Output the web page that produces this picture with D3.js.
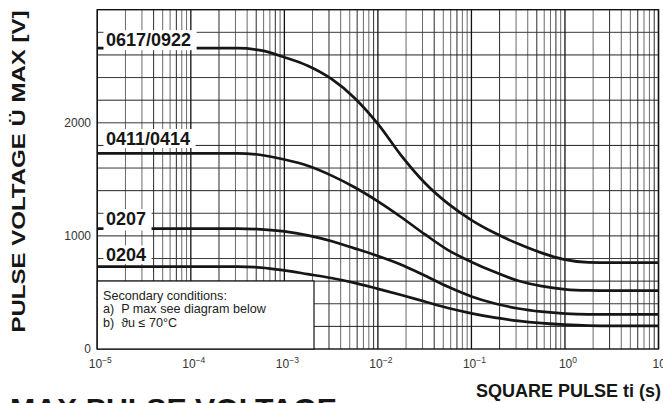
<!DOCTYPE html>
<html>
<head>
<meta charset="utf-8">
<script src="https://cdn.jsdelivr.net/npm/d3@7"></script>
<style>
  html, body { margin: 0; padding: 0; background: #fff; }
  svg { display: block; font-family: "Liberation Sans", Arial, Helvetica, sans-serif; }
  .note { white-space: pre; }
</style>
</head>
<body>
<svg id="chart" width="663" height="403"></svg>
<script>
// ---------------- DATA ----------------
const xTickExponents = [-5, -4, -3, -2, -1, 0, 1];
const yTickValues = [0, 1000, 2000];
const seriesNames = ["0617/0922", "0411/0414", "0207", "0204"];
// pulse time grid, as log10(ti / s)
const logTimes = [-5, -3.5, -3.25, -3, -2.75, -2.5, -2.25, -2, -1.75, -1.5, -1.25, -1, -0.75, -0.5, -0.25, 0, 0.25, 0.5, 1];
const v0617 = [2660, 2660, 2640, 2580, 2505, 2390, 2220, 1990, 1710, 1470, 1285, 1140, 1025, 930, 850, 790, 766, 763, 763];
const v0411 = [1730, 1730, 1715, 1675, 1620, 1535, 1430, 1305, 1165, 1015, 875, 770, 680, 603, 556, 528, 518, 516, 516];
const v0207 = [1065, 1065, 1058, 1040, 1005, 955, 890, 822, 745, 650, 550, 465, 402, 358, 330, 313, 307, 307, 307];
const v0204 = [728, 728, 720, 695, 662, 628, 585, 532, 478, 420, 362, 315, 277, 249, 229, 215, 207, 205, 205];
const seriesValues = [v0617, v0411, v0207, v0204];
const yAxisTitle = "PULSE VOLTAGE Ü MAX [V]";
const xAxisTitle = "SQUARE PULSE ti (s)";
const chartTitle = "MAX PULSE VOLTAGE";
const noteLines = ["Secondary conditions:", "a)  P max see diagram below", "b)  ϑu ≤ 70°C"];

// ---------------- LAYOUT ----------------
const svg = d3.select("#chart");
const L = 97.3, R = 658.5, T = 9.7, B = 349;
const x = d3.scaleLog().domain([1e-5, 10]).range([L, R]);
const y = d3.scaleLinear().domain([0, 3000]).range([B, T]);

// grid
const grid = svg.append("g");
const minorX = [];
for (let e = -5; e < 1; e++) for (let m = 2; m <= 9; m++) minorX.push(m * Math.pow(10, e));
grid.selectAll("line.minx").data(minorX).join("line")
  .attr("x1", d => x(d)).attr("x2", d => x(d)).attr("y1", T).attr("y2", B)
  .attr("stroke", (d, i) => (i % 3 === 2 ? "#2a2a2a" : "#6a6a6a")).attr("stroke-width", 1);
grid.selectAll("line.hy").data(d3.range(200, 3000, 200)).join("line")
  .attr("x1", L).attr("x2", R).attr("y1", d => y(d)).attr("y2", d => y(d))
  .attr("stroke", (d, i) => (i % 2 ? "#3a3a3a" : "#222")).attr("stroke-width", 1);
grid.selectAll("line.majx").data(xTickExponents.map(e => Math.pow(10, e))).join("line")
  .attr("x1", d => x(d)).attr("x2", d => x(d)).attr("y1", T).attr("y2", B)
  .attr("stroke", "#111").attr("stroke-width", 1.3);
svg.append("rect").attr("x", L).attr("y", T).attr("width", R - L).attr("height", B - T)
  .attr("fill", "none").attr("stroke", "#111").attr("stroke-width", 1.4);

// secondary conditions box
const noteBox = svg.append("g");
noteBox.append("rect").attr("x", L).attr("y", 281).attr("width", 314 - L).attr("height", B - 281)
  .attr("fill", "#fff").attr("stroke", "#111").attr("stroke-width", 1.2);
noteBox.selectAll("text").data(noteLines).join("text")
  .attr("class", "note")
  .attr("x", 103).attr("y", (d, i) => 300 + i * 13.3)
  .attr("font-size", 12.6).attr("fill", "#222").text(d => d);

// curves
const line = d3.line().x(d => x(Math.pow(10, d[0]))).y(d => y(d[1])).curve(d3.curveMonotoneX);
svg.append("g").selectAll("path").data(seriesValues).join("path")
  .attr("d", vals => line(logTimes.map((t, i) => [t, vals[i]])))
  .attr("fill", "none").attr("stroke", "#161616").attr("stroke-width", 2.7);

// series labels
const labelDy = [-2, -8.3, -3.5, -5.2];
const boxBottom = [4, 3, 5.5, 2.5];
seriesNames.forEach((name, i) => {
  const base = y(seriesValues[i][0]) + labelDy[i];
  const g = svg.append("g");
  const r = g.append("rect");
  const t = g.append("text").attr("x", 106).attr("y", base)
    .attr("font-size", 18).attr("font-weight", "bold").attr("fill", "#161616").text(name);
  const w = t.node().getComputedTextLength();
  r.attr("x", 103.5).attr("y", base - 16).attr("width", w + 8).attr("height", 16 + boxBottom[i])
    .attr("fill", "#fff");
});

// y tick labels
svg.append("g").selectAll("text").data(yTickValues).join("text")
  .attr("x", 91).attr("y", d => y(d) + 4.3).attr("text-anchor", "end")
  .attr("font-size", 12).attr("fill", "#333").text(d => d);

// x tick labels 10^e
const xt = svg.append("g").selectAll("text").data(xTickExponents).join("text")
  .attr("x", e => x(Math.pow(10, e)) + 3).attr("y", 368).attr("text-anchor", "middle")
  .attr("font-size", 12).attr("fill", "#333");
xt.append("tspan").text("10");
xt.append("tspan").attr("dy", -5).attr("font-size", 8.5)
  .text(e => (e < 0 ? "\u2212" + Math.abs(e) : String(e)));

// axis titles
svg.append("text").attr("transform", "translate(24.5,171.5) rotate(-90)")
  .attr("text-anchor", "middle").attr("font-size", 19).attr("font-weight", "bold").attr("fill", "#161616")
  .attr("textLength", 322).attr("lengthAdjust", "spacingAndGlyphs").text(yAxisTitle);
svg.append("text").attr("x", 661).attr("y", 397).attr("text-anchor", "end")
  .attr("font-size", 18).attr("font-weight", "bold").attr("fill", "#161616").text(xAxisTitle);
svg.append("text").attr("x", 10).attr("y", 419)
  .attr("font-size", 30).attr("font-weight", "bold").attr("fill", "#161616")
  .attr("textLength", 327).attr("lengthAdjust", "spacingAndGlyphs").text(chartTitle);
</script>
</body>
</html>
